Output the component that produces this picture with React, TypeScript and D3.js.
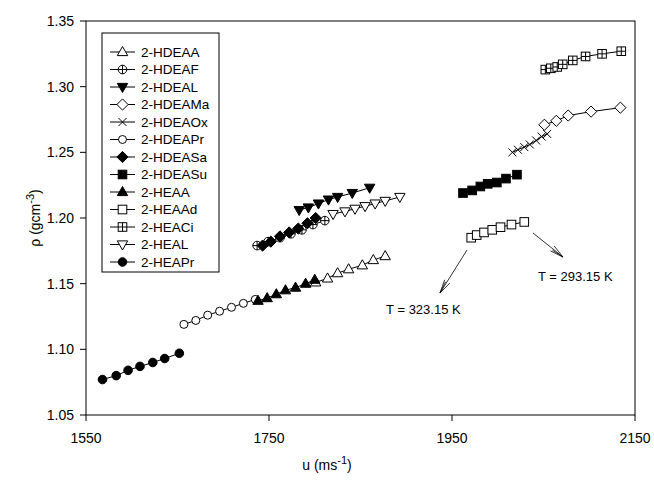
import React from "react";
import * as d3 from "d3";

const seriesNames = ["2-HDEAA","2-HDEAF","2-HDEAL","2-HDEAMa","2-HDEAOx","2-HDEAPr","2-HDEASa","2-HDEASu","2-HEAA","2-HEAAd","2-HEACi","2-HEAL","2-HEAPr"];
const markerTypes = ["triUpOpen","circlePlus","triDownFill","diamondOpen","cross","circleOpen","diamondFill","squareFill","triUpFill","squareOpen","squarePlus","triDownOpen","circleFill"];

const hdeaaU = [1801, 1814, 1825, 1837, 1852, 1864, 1877];
const hdeaaR = [1.151, 1.154, 1.158, 1.161, 1.164, 1.168, 1.171];
const hdeafU = [1737, 1749, 1762, 1774, 1786, 1798, 1811];
const hdeafR = [1.179, 1.182, 1.185, 1.188, 1.191, 1.195, 1.198];
const hdealU = [1783, 1793, 1804, 1815, 1825, 1841, 1860];
const hdealR = [1.206, 1.208, 1.211, 1.214, 1.216, 1.219, 1.223];
const hdeamaU = [2051, 2064, 2077, 2102, 2134];
const hdeamaR = [1.271, 1.274, 1.278, 1.281, 1.284];
const hdeaoxU = [2016, 2022, 2029, 2035, 2042, 2048, 2054];
const hdeaoxR = [1.250, 1.252, 1.254, 1.256, 1.259, 1.262, 1.264];
const hdeaprU = [1657, 1670, 1683, 1696, 1709, 1722, 1735];
const hdeaprR = [1.119, 1.122, 1.126, 1.129, 1.132, 1.135, 1.138];
const hdeasaU = [1743, 1752, 1762, 1772, 1782, 1792, 1801];
const hdeasaR = [1.179, 1.182, 1.186, 1.189, 1.192, 1.196, 1.200];
const hdeasuU = [1962, 1972, 1981, 1989, 1999, 2009, 2021];
const hdeasuR = [1.219, 1.221, 1.224, 1.226, 1.227, 1.230, 1.233];
const heaaU = [1738, 1748, 1758, 1768, 1779, 1790, 1800];
const heaaR = [1.137, 1.139, 1.142, 1.145, 1.147, 1.150, 1.153];
const heaadU = [1971, 1977, 1985, 1994, 2003, 2015, 2029];
const heaadR = [1.185, 1.187, 1.189, 1.191, 1.193, 1.195, 1.197];
const heaciU = [2052, 2058, 2065, 2071, 2082, 2096, 2114, 2135];
const heaciR = [1.313, 1.314, 1.315, 1.317, 1.320, 1.323, 1.325, 1.327];
const healU = [1820, 1833, 1844, 1855, 1866, 1877, 1893];
const healR = [1.203, 1.205, 1.207, 1.209, 1.211, 1.213, 1.216];
const heaprU = [1568, 1583, 1596, 1609, 1623, 1636, 1652];
const heaprR = [1.077, 1.080, 1.084, 1.087, 1.090, 1.093, 1.097];

const allU = [hdeaaU, hdeafU, hdealU, hdeamaU, hdeaoxU, hdeaprU, hdeasaU, hdeasuU, heaaU, heaadU, heaciU, healU, heaprU];
const allR = [hdeaaR, hdeafR, hdealR, hdeamaR, hdeaoxR, hdeaprR, hdeasaR, hdeasuR, heaaR, heaadR, heaciR, healR, heaprR];

const xTicks = [1550, 1750, 1950, 2150];
const yTicks = [1.05, 1.10, 1.15, 1.20, 1.25, 1.30, 1.35];

// annotations in data units
const annoLabels = ["T = 323.15 K", "T = 293.15 K"];
const annoTextU = [1878, 2044];
const annoTextR = [1.127, 1.152];
const arrowFromU = [1966.4, 2038.5];
const arrowFromR = [1.1756, 1.1886];
const arrowToU = [1936.9, 2071.3];
const arrowToR = [1.1429, 1.1703];

const FONT = "'Liberation Sans', Arial, sans-serif";
const L = 86, R = 635, T = 21, B = 415;

function Marker({ type, x, y }: { type: string; x: number; y: number }) {
  const k = "#000";
  switch (type) {
    case "triUpOpen":
    case "triUpFill": {
      const f = type === "triUpFill" ? k : "#fff";
      return <path d={`M${x},${y - 5.5}L${x + 5.2},${y + 3.6}L${x - 5.2},${y + 3.6}Z`} fill={f} stroke={k} strokeWidth={1} />;
    }
    case "triDownOpen":
    case "triDownFill": {
      const f = type === "triDownFill" ? k : "#fff";
      return <path d={`M${x},${y + 5.5}L${x + 5.2},${y - 3.6}L${x - 5.2},${y - 3.6}Z`} fill={f} stroke={k} strokeWidth={1} />;
    }
    case "circleOpen":
      return <circle cx={x} cy={y} r={4} fill="#fff" stroke={k} strokeWidth={1} />;
    case "circleFill":
      return <circle cx={x} cy={y} r={4.3} fill={k} stroke={k} strokeWidth={1} />;
    case "circlePlus":
      return (
        <g>
          <circle cx={x} cy={y} r={4.3} fill="#fff" stroke={k} strokeWidth={1} />
          <path d={`M${x - 4.3},${y}H${x + 4.3}M${x},${y - 4.3}V${y + 4.3}`} stroke={k} strokeWidth={1} />
        </g>
      );
    case "diamondOpen":
    case "diamondFill": {
      const f = type === "diamondFill" ? k : "#fff";
      return <path d={`M${x},${y - 5.6}L${x + 5.6},${y}L${x},${y + 5.6}L${x - 5.6},${y}Z`} fill={f} stroke={k} strokeWidth={1} />;
    }
    case "squareOpen":
    case "squareFill": {
      const f = type === "squareFill" ? k : "#fff";
      return <rect x={x - 4.3} y={y - 4.3} width={8.6} height={8.6} fill={f} stroke={k} strokeWidth={1} />;
    }
    case "squarePlus":
      return (
        <g>
          <rect x={x - 4.3} y={y - 4.3} width={8.6} height={8.6} fill="#fff" stroke={k} strokeWidth={1} />
          <path d={`M${x - 4.3},${y}H${x + 4.3}M${x},${y - 4.3}V${y + 4.3}`} stroke={k} strokeWidth={1} />
        </g>
      );
    case "cross":
      return <path d={`M${x - 4},${y - 4}L${x + 4},${y + 4}M${x - 4},${y + 4}L${x + 4},${y - 4}`} stroke={k} strokeWidth={1} />;
  }
  return null;
}

function Arrow({ x1, y1, x2, y2 }: { x1: number; y1: number; x2: number; y2: number }) {
  const ang = Math.atan2(y2 - y1, x2 - x1);
  const len = 14;
  const spread = 0.22;
  const a1 = ang + Math.PI - spread;
  const a2 = ang + Math.PI + spread;
  const a3 = ang + Math.PI - spread * 0.45;
  return (
    <g stroke="#000" strokeWidth={0.8} fill="none">
      <line x1={x1} y1={y1} x2={x2} y2={y2} />
      <line x1={x2} y1={y2} x2={x2 + len * Math.cos(a1)} y2={y2 + len * Math.sin(a1)} />
      <line x1={x2} y1={y2} x2={x2 + len * Math.cos(a2)} y2={y2 + len * Math.sin(a2)} />
      <line x1={x2} y1={y2} x2={x2 + len * 0.9 * Math.cos(a3)} y2={y2 + len * 0.9 * Math.sin(a3)} />
    </g>
  );
}

export default function App() {
  const x = d3.scaleLinear().domain([1550, 2150]).range([L, R]);
  const y = d3.scaleLinear().domain([1.05, 1.35]).range([B, T]);
  const line = d3.line<[number, number]>().x((d) => x(d[0])).y((d) => y(d[1]));

  const legX = 102, legY = 33, legW = 117, legH = 239;
  const entryY0 = 52, entryDy = 17.5;

  return (
    <svg width={654} height={484} style={{ position: "absolute", left: 0, top: 0, background: "#fff" }} fontFamily={FONT}>
      <rect x={0} y={0} width={654} height={484} fill="#fff" />
      {/* series */}
      {allU.map((us, i) => {
        const pts: [number, number][] = us.map((u, j) => [u, allR[i][j]]);
        return (
          <g key={seriesNames[i]}>
            <path d={line(pts) || ""} fill="none" stroke="#000" strokeWidth={1} />
            {pts.map((p, j) => (
              <Marker key={j} type={markerTypes[i]} x={x(p[0])} y={y(p[1])} />
            ))}
          </g>
        );
      })}
      {/* frame */}
      <rect x={L} y={T} width={R - L} height={B - T} fill="none" stroke="#000" strokeWidth={1} />
      {/* y ticks */}
      {yTicks.map((t) => (
        <g key={t}>
          <line x1={L - 6} x2={L} y1={y(t)} y2={y(t)} stroke="#000" />
          <text x={L - 12} y={y(t)} dy="0.35em" textAnchor="end" fontSize={14}>{t.toFixed(2)}</text>
        </g>
      ))}
      {/* x ticks */}
      {xTicks.map((t) => (
        <g key={t}>
          <line x1={x(t)} x2={x(t)} y1={B} y2={B + 6} stroke="#000" />
          <text x={x(t)} y={443} textAnchor="middle" fontSize={14}>{t}</text>
        </g>
      ))}
      {/* axis titles */}
      <text x={327} y={470} textAnchor="middle" fontSize={14}>
        u (ms<tspan dy={-6} fontSize={11}>-1</tspan><tspan dy={6}>)</tspan>
      </text>
      <text transform={`translate(40,218) rotate(-90)`} textAnchor="middle" fontSize={14}>
        ρ (gcm<tspan dy={-6} fontSize={11}>-3</tspan><tspan dy={6}>)</tspan>
      </text>
      {/* legend */}
      <rect x={legX} y={legY} width={legW} height={legH} fill="#fff" stroke="#000" strokeWidth={1} />
      {seriesNames.map((n, i) => {
        const ly = entryY0 + i * entryDy;
        return (
          <g key={n}>
            <line x1={110} x2={135} y1={ly} y2={ly} stroke="#000" />
            <Marker type={markerTypes[i]} x={122.5} y={ly} />
            <text x={141} y={ly} dy="0.35em" fontSize={13.5}>{n}</text>
          </g>
        );
      })}
      {/* annotations */}
      {annoLabels.map((lab, i) => (
        <g key={lab}>
          <Arrow x1={x(arrowFromU[i])} y1={y(arrowFromR[i])} x2={x(arrowToU[i])} y2={y(arrowToR[i])} />
          <text x={x(annoTextU[i])} y={y(annoTextR[i])} fontSize={13}>{lab}</text>
        </g>
      ))}
    </svg>
  );
}
